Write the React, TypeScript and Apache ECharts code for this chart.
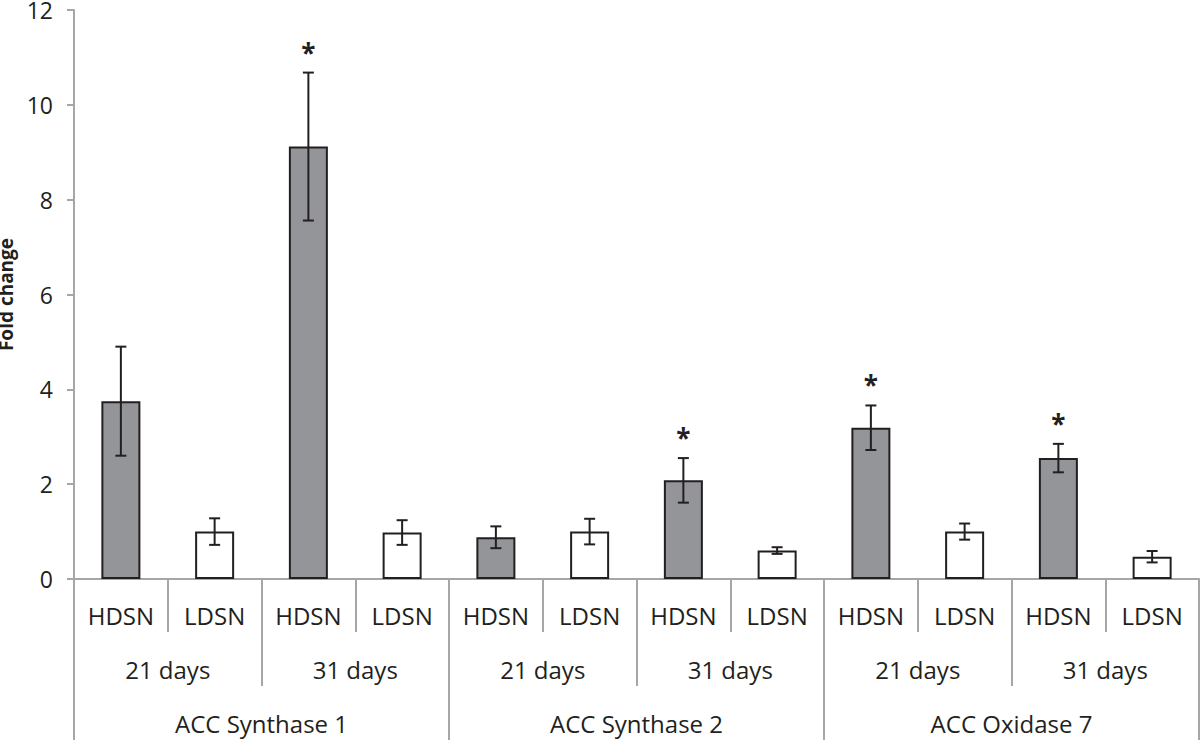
import React, { useEffect, useRef } from "react";
import * as echarts from "echarts";

const treatments = ["HDSN", "LDSN", "HDSN", "LDSN", "HDSN", "LDSN", "HDSN", "LDSN", "HDSN", "LDSN", "HDSN", "LDSN"];
const dayGroups = ["21 days", "31 days", "21 days", "31 days", "21 days", "31 days"];
const genes = ["ACC Synthase 1", "ACC Synthase 2", "ACC Oxidase 7"];
const foldChange = [3.75, 1.0, 9.12, 0.98, 0.88, 1.0, 2.08, 0.6, 3.19, 1.0, 2.55, 0.47];
const errorSize = [1.15, 0.28, 1.56, 0.26, 0.23, 0.27, 0.47, 0.07, 0.47, 0.17, 0.3, 0.12];
const significant = [0, 0, 1, 0, 0, 0, 1, 0, 1, 0, 1, 0];
const yMin = 0;
const yMax = 12;
const yInterval = 2;

const FONT = "'Open Sans', 'Noto Sans', sans-serif";
const TEXT = "#231f20";
const AXIS = "#a6a6a6";
const DARK_FILL = "#939598";

export default function App() {
  const ref = useRef<HTMLDivElement>(null);
  useEffect(() => {
    document.body.style.margin = "0";
    if (!ref.current) return;
    const chart = echarts.init(ref.current, undefined, { renderer: "svg" });
    const errData = foldChange.map((v, i) => [i, v - errorSize[i], v + errorSize[i], significant[i]]);
    const labelStyle = { fontSize: 24, color: TEXT, fontFamily: FONT, lineHeight: 26 };
    chart.setOption({
      animation: false,
      backgroundColor: "#ffffff",
      grid: { left: 74, right: 1, top: 10, bottom: 161, outerBoundsMode: "none", containLabel: false },
      xAxis: [
        {
          type: "category",
          data: treatments,
          position: "bottom",
          axisLine: { show: true, lineStyle: { color: AXIS, width: 2 } },
          axisTick: { show: true, length: 53, interval: 0, lineStyle: { color: AXIS, width: 2 } },
          axisLabel: { interval: 0, margin: 36, verticalAlign: "middle", ...labelStyle },
        },
        {
          type: "category",
          data: dayGroups,
          position: "bottom",
          offset: 53,
          axisLine: { show: false },
          axisTick: { show: true, length: 54, interval: 0, lineStyle: { color: AXIS, width: 2 } },
          axisLabel: { interval: 0, margin: 37, verticalAlign: "middle", ...labelStyle },
        },
        {
          type: "category",
          data: genes,
          position: "bottom",
          offset: 107,
          axisLine: { show: false },
          axisTick: { show: true, length: 54, interval: 0, lineStyle: { color: AXIS, width: 2 } },
          axisLabel: { interval: 0, margin: 37, verticalAlign: "middle", ...labelStyle },
        },
      ],
      yAxis: {
        type: "value",
        min: yMin,
        max: yMax,
        interval: yInterval,
        name: "Fold change",
        nameLocation: "middle",
        nameGap: 52,
        nameRotate: 90,
        nameTextStyle: { fontSize: 19, fontWeight: "bold", color: TEXT, fontFamily: FONT, lineHeight: 20 },
        axisLine: { show: true, lineStyle: { color: AXIS, width: 2 } },
        axisTick: { show: true, length: 7, lineStyle: { color: AXIS, width: 2 } },
        axisLabel: { margin: 21, fontSize: 23, color: TEXT, fontFamily: FONT, lineHeight: 16 },
        splitLine: { show: false },
      },
      series: [
        {
          type: "bar",
          xAxisIndex: 0,
          barWidth: 39,
          data: foldChange.map((v, i) => ({
            value: v,
            itemStyle: { color: i % 2 === 0 ? DARK_FILL : "#ffffff", borderColor: TEXT, borderWidth: 2 },
          })),
        },
        {
          type: "custom",
          xAxisIndex: 0,
          data: errData,
          encode: { x: 0, y: [1, 2] },
          z: 10,
          renderItem: (params: any, api: any) => {
            const i = api.value(0);
            const lo = api.coord([i, api.value(1)]);
            const hi = api.coord([i, api.value(2)]);
            const x = lo[0];
            const cap = 5.5;
            const st = { stroke: TEXT, lineWidth: 2 };
            const children: any[] = [
              { type: "line", shape: { x1: x, y1: lo[1], x2: x, y2: hi[1] }, style: st },
              { type: "line", shape: { x1: x - cap, y1: lo[1], x2: x + cap, y2: lo[1] }, style: st },
              { type: "line", shape: { x1: x - cap, y1: hi[1], x2: x + cap, y2: hi[1] }, style: st },
            ];
            if (api.value(3)) {
              children.push({
                type: "text",
                x: x,
                y: hi[1] - 20,
                style: {
                  text: "*",
                  fill: TEXT,
                  font: `bold 26px ${FONT}`,
                  textAlign: "center",
                  textVerticalAlign: "middle",
                },
              });
            }
            return { type: "group", children };
          },
        },
      ],
    });
    return () => chart.dispose();
  }, []);
  return <div ref={ref} style={{ width: 1200, height: 740 }} />;
}
